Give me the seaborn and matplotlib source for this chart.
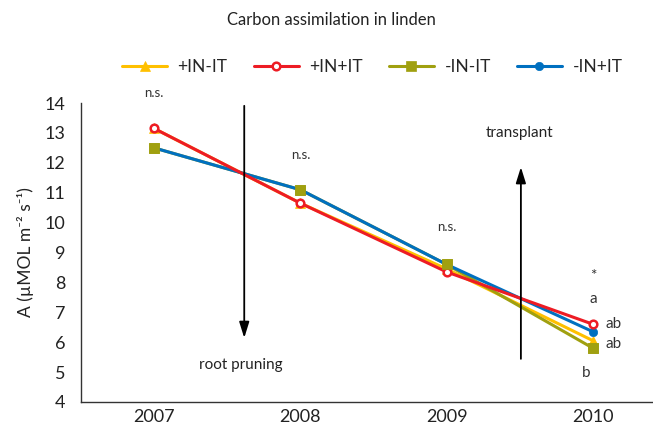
import matplotlib
matplotlib.use("Agg")
import matplotlib.pyplot as plt
import seaborn as sns
import pandas as pd

sns.set_theme(style="white")
plt.rcParams['font.family'] = ['Lato', 'DejaVu Sans']

years = ["2007", "2008", "2009", "2010"]
series_names = ["+IN-IT", "+IN+IT", "-IN-IT", "-IN+IT"]
v_in_it = [13.15, 10.65, 8.45, 6.05]      # +IN-IT
v_in_plus_it = [13.15, 10.65, 8.35, 6.6]  # +IN+IT
v_min_it = [12.5, 11.1, 8.6, 5.8]         # -IN-IT
v_min_plus_it = [12.5, 11.1, 8.6, 6.35]   # -IN+IT

colors = {"+IN-IT": "#FFC000", "+IN+IT": "#ED1C24", "-IN-IT": "#A0A010", "-IN+IT": "#0070C0"}
markers = {"+IN-IT": "^", "+IN+IT": "o", "-IN-IT": "s", "-IN+IT": "o"}
msizes = {"+IN-IT": 6.5, "+IN+IT": 5.5, "-IN-IT": 6.5, "-IN+IT": 6}
values = {"+IN-IT": v_in_it, "+IN+IT": v_in_plus_it, "-IN-IT": v_min_it, "-IN+IT": v_min_plus_it}

fig = plt.figure(figsize=(6.53, 4.33), dpi=100)
ax = fig.add_axes([0.124, 0.0716, 0.876, 0.6904])

draw_order = ["+IN-IT", "-IN-IT", "-IN+IT", "+IN+IT"]
for name in draw_order:
    df = pd.DataFrame({"x": range(len(years)), "y": values[name]})
    mfc = "white" if name == "+IN+IT" else colors[name]
    mew = 1.8 if name == "+IN+IT" else 0.5
    sns.lineplot(data=df, x="x", y="y", ax=ax, color=colors[name], lw=2.2,
                 marker=markers[name], markersize=msizes[name], markerfacecolor=mfc,
                 markeredgecolor=colors[name], markeredgewidth=mew, label=name)
    if name == "-IN+IT":
        # olive squares sit on top of the blue line
        dfo = pd.DataFrame({"x": range(len(years)), "y": v_min_it})
        sns.scatterplot(data=dfo, x="x", y="y", ax=ax, color=colors["-IN-IT"],
                        marker="s", s=42, edgecolor=colors["-IN-IT"], linewidth=0.5,
                        legend=False, zorder=3)

ax.set_xlim(-0.5, 3.41)
ax.set_ylim(4, 14)
ax.set_xticks(range(len(years)))
ax.set_xticklabels(years)
ax.set_yticks(range(4, 15))
ax.tick_params(axis="both", length=0, labelsize=13, colors="#222222")
ax.tick_params(axis="y", pad=11)
ax.tick_params(axis="x", pad=5)
ax.set_xlabel("")
ax.set_ylabel("A (µMOL m⁻² s⁻¹)", fontsize=12.5, color="#222222", labelpad=8)
for s in ["top", "right"]:
    ax.spines[s].set_visible(False)
for s in ["left", "bottom"]:
    ax.spines[s].set_color("#333333")
    ax.spines[s].set_linewidth(1.0)

# arrows
ax.annotate("", xy=(0.616, 6.05), xytext=(0.616, 14.0),
            arrowprops=dict(arrowstyle="-|>,head_length=0.8,head_width=0.25", color="black", lw=1.3),
            annotation_clip=False)
ax.annotate("", xy=(2.507, 11.95), xytext=(2.507, 5.35),
            arrowprops=dict(arrowstyle="-|>,head_length=0.8,head_width=0.25", color="black", lw=1.3))
ax.text(0.59, 5.23, "root pruning", ha="center", va="center", fontsize=11, color="#222222")
ax.text(2.5, 13.0, "transplant", ha="center", va="center", fontsize=11, color="#222222")

# significance annotations
ax.text(0.0, 14.33, "n.s.", ha="center", va="center", fontsize=9.5, color="#333333", clip_on=False)
ax.text(1.0, 12.27, "n.s.", ha="center", va="center", fontsize=9.5, color="#333333")
ax.text(2.0, 9.85, "n.s.", ha="center", va="center", fontsize=9.5, color="#333333")
ax.text(3.0, 8.2, "*", ha="center", va="center", fontsize=11, color="#333333")
ax.text(3.0, 7.45, "a", ha="center", va="center", fontsize=11, color="#333333")
ax.text(3.14, 6.6, "ab", ha="center", va="center", fontsize=11, color="#333333")
ax.text(3.14, 5.95, "ab", ha="center", va="center", fontsize=11, color="#333333")
ax.text(2.95, 4.97, "b", ha="center", va="center", fontsize=11, color="#333333")

# legend
h, l = ax.get_legend_handles_labels()
hd = dict(zip(l, h))
ax.legend([hd[n] for n in series_names], series_names, loc="center",
          bbox_to_anchor=(0.57, 0.845), bbox_transform=fig.transFigure, ncol=4,
          frameon=False, fontsize=12.5, handlelength=2.6, columnspacing=1.5,
          handletextpad=0.6)

fig.text(0.507, 0.953, "Carbon assimilation in linden", ha="center", va="center",
         fontsize=12, color="#222222")

fig.savefig("out.png", dpi=100)
